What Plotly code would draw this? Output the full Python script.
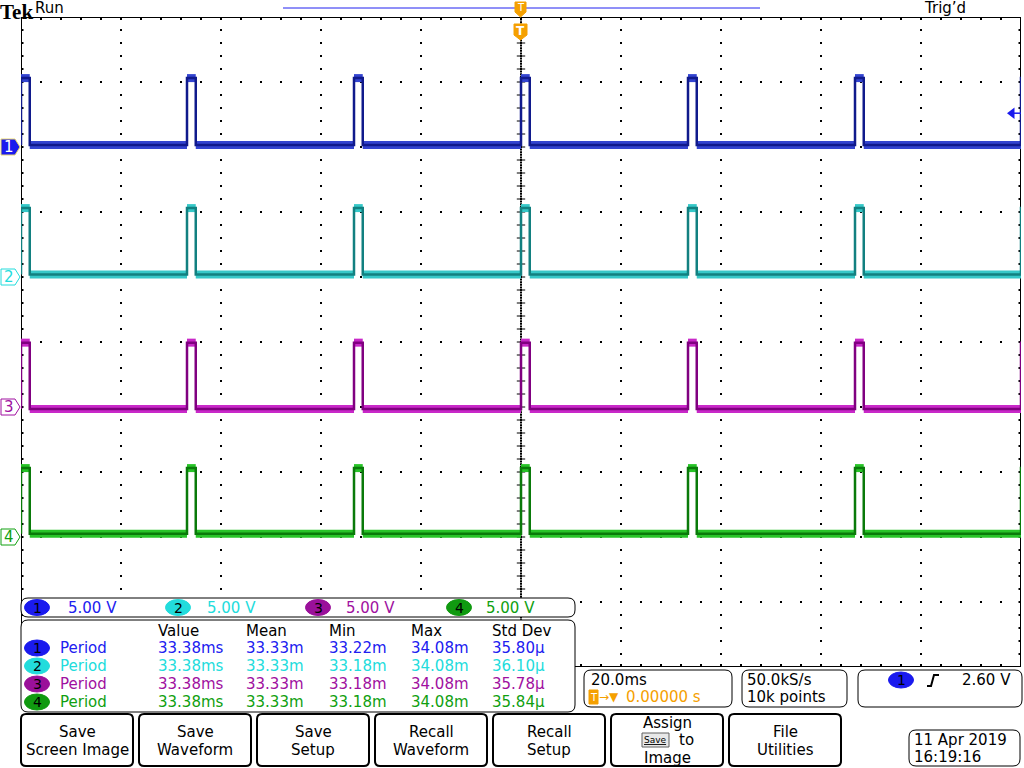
import numpy as np
import plotly.graph_objects as go

W, H = 1024, 768

# ---------------- data ----------------
time_per_div_ms = 20.0
volts_per_div = 5.0
channel_names = ["1", "2", "3", "4"]
ch_offsets_div = [3, 1, -1, -3]
rise_times_ms = [-100.0, -66.8, -33.4, 0.0, 33.4, 66.8, 100.0]
pulse_width_ms = 1.75
low_levels_v = [0.15, 0.2, -0.15, 0.25]
high_levels_v = [5.3, 5.3, 4.95, 5.3]
trigger_level_v = 2.60
scale_labels = ["5.00 V", "5.00 V", "5.00 V", "5.00 V"]
meas_headers = ["Value", "Mean", "Min", "Max", "Std Dev"]
meas_name = ["Period", "Period", "Period", "Period"]
meas_value = ["33.38ms", "33.38ms", "33.38ms", "33.38ms"]
meas_mean = ["33.33m", "33.33m", "33.33m", "33.33m"]
meas_min = ["33.22m", "33.18m", "33.18m", "33.18m"]
meas_max = ["34.08m", "34.08m", "34.08m", "34.08m"]
meas_std = ["35.80µ", "36.10µ", "35.78µ", "35.84µ"]
timebase_label = "20.0ms"
trig_pos_label = "0.00000 s"
sample_rate_label = "50.0kS/s"
record_label = "10k points"
trig_label = "2.60 V"
date_label = "11 Apr 2019"
time_label = "16:19:16"
buttons = [["Save", "Screen Image"], ["Save", "Waveform"], ["Save", "Setup"],
           ["Recall", "Waveform"], ["Recall", "Setup"], None, ["File", "Utilities"]]

# ---------------- styles ----------------
text_cols = ["#2020f0", "#22dcdc", "#a010a0", "#10a010"]
badge_cols = ["#1a1aee", "#22dcdc", "#9a109a", "#109a10"]
band_cols = ["#3344d0", "#36c8c8", "#c828c8", "#28c428"]
core_cols = ["#101a8c", "#128080", "#800080", "#0a7a0a"]
ORANGE = "#f5a000"
FONT = "DejaVu Sans"


def px(x):
    return x / W


def py(y):
    return 1 - y / H


shapes = []
ann = []


def txt(x, y, s, color="black", size=15, anchor="left", family=FONT, yanchor="middle"):
    ann.append(dict(x=px(x), y=py(y), xref="paper", yref="paper", text=s,
                    showarrow=False, xanchor=anchor, yanchor=yanchor,
                    font=dict(family=family, size=size, color=color),
                    borderpad=0, borderwidth=0))


def rrect(x0, y0, x1, y1, r=6, lw=1, color="black", fill="white"):
    p = (f"M{px(x0 + r)},{py(y0)} L{px(x1 - r)},{py(y0)} Q{px(x1)},{py(y0)} {px(x1)},{py(y0 + r)} "
         f"L{px(x1)},{py(y1 - r)} Q{px(x1)},{py(y1)} {px(x1 - r)},{py(y1)} "
         f"L{px(x0 + r)},{py(y1)} Q{px(x0)},{py(y1)} {px(x0)},{py(y1 - r)} "
         f"L{px(x0)},{py(y0 + r)} Q{px(x0)},{py(y0)} {px(x0 + r)},{py(y0)} Z")
    shapes.append(dict(type="path", path=p, xref="paper", yref="paper",
                       line=dict(color=color, width=lw), fillcolor=fill, layer="above"))


def poly(pts, fill, line="black", lw=1):
    p = "M" + " L".join(f"{px(a)},{py(b)}" for a, b in pts) + " Z"
    shapes.append(dict(type="path", path=p, xref="paper", yref="paper",
                       line=dict(color=line, width=lw), fillcolor=fill, layer="above"))


def badge(xc, yc, n, fill, w=25, h=16, tcol="black"):
    shapes.append(dict(type="circle", xref="paper", yref="paper",
                       x0=px(xc - w / 2), x1=px(xc + w / 2), y0=py(yc + h / 2), y1=py(yc - h / 2),
                       fillcolor=fill, line=dict(color=fill, width=1), layer="above"))
    txt(xc, yc, n, color=tcol, size=14, anchor="center")


fig = go.Figure()

# ---------------- graticule ----------------
minor_x = np.arange(-100, 100.001, time_per_div_ms / 5)
minor_y = np.arange(-5, 5.001, 0.2)
gx, gy = [], []
for t in np.arange(-80, 80.001, 20):
    if abs(t) < 1e-9:
        continue
    gx += [t] * len(minor_y)
    gy += list(minor_y)
for d in range(-4, 5):
    gx += list(minor_x)
    gy += [d] * len(minor_x)
# border ticks
gx += list(minor_x); gy += [4.97] * len(minor_x)
gx += list(minor_x); gy += [-4.97] * len(minor_x)
gx += [-99.7] * len(minor_y); gy += list(minor_y)
gx += [99.7] * len(minor_y); gy += list(minor_y)
# dense centre vertical line
dense = np.arange(-5, 5.001, 0.04)
gx += [0.0] * len(dense); gy += list(dense)
fig.add_trace(go.Scatter(x=gx, y=gy, mode="markers", hoverinfo="skip",
                         marker=dict(symbol="square", size=2, color="black", line=dict(width=0))))
fig.add_trace(go.Scatter(x=[0.0] * len(minor_y), y=minor_y, mode="markers", hoverinfo="skip",
                         marker=dict(symbol="line-ew", size=6, line=dict(width=1, color="black"))))

# ---------------- waveforms ----------------
for i in range(4):
    off = ch_offsets_div[i]
    lo = off + low_levels_v[i] / volts_per_div
    hi = off + high_levels_v[i] / volts_per_div
    xs, ys = [], []
    bx, by = [], []
    for k, r in enumerate(rise_times_ms):
        f = r + pulse_width_ms
        xs += [r, r, f, f]
        ys += [lo, hi, hi, lo]
        bx += [r, min(f, 100), None]
        by += [hi, hi, None]
        if k + 1 < len(rise_times_ms):
            bx += [f, rise_times_ms[k + 1], None]
            by += [lo, lo, None]
    fig.add_trace(go.Scatter(x=bx, y=by, mode="lines", hoverinfo="skip",
                             line=dict(color=band_cols[i], width=8)))
    fig.add_trace(go.Scatter(x=xs, y=ys, mode="lines", hoverinfo="skip",
                             line=dict(color=core_cols[i], width=2.5)))

# trigger level arrow (ch1)
tl = ch_offsets_div[0] + trigger_level_v / volts_per_div
fig.add_trace(go.Scatter(x=[98.2, 100], y=[tl, tl], mode="lines", hoverinfo="skip",
                         line=dict(color=badge_cols[0], width=1.5)))
fig.add_trace(go.Scatter(x=[98.2], y=[tl], mode="markers", hoverinfo="skip",
                         marker=dict(symbol="triangle-left", size=10, color=badge_cols[0])))

# graticule border
for (x0, y0, x1, y1) in [(-100, 5, 100, 5), (-100, -5, -100, 5), (100, -5, 100, 5), (-100, -5, 100, -5)]:
    shapes.append(dict(type="line", xref="x", yref="y", x0=x0, y0=y0, x1=x1, y1=y1,
                       line=dict(color="black", width=2), layer="below"))


def ypix(div):
    return 342 - 65 * div


# channel ground markers on the left
for i in range(4):
    yc = ypix(ch_offsets_div[i])
    pts = [(1, yc - 8), (15, yc - 8), (20, yc), (15, yc + 8), (1, yc + 8)]
    if i == 0:
        poly(pts, fill=badge_cols[0], line="#e8d870", lw=1)
        txt(8.5, yc, channel_names[i], color="white", size=15, anchor="center")
    else:
        poly(pts, fill="white", line=text_cols[i], lw=1)
        txt(8.5, yc, channel_names[i], color=text_cols[i], size=15, anchor="center")

# ---------------- top bar ----------------
txt(0, 0.5, "<b>Tek</b>", size=21, family="Liberation Serif", yanchor="top")
txt(35, 8, "Run", size=15)
txt(924, 8, "Trig’d", size=15)
shapes.append(dict(type="line", xref="paper", yref="paper", x0=px(283), x1=px(760), y0=py(8), y1=py(8),
                   line=dict(color="#2020f0", width=1), layer="above"))
poly([(515, 2), (526, 2), (526, 12), (520.5, 17), (515, 12)], fill=ORANGE, line=ORANGE)
txt(520.5, 8, "T", color="white", size=10, anchor="center")
poly([(514, 24), (527, 24), (527, 35), (520.5, 40), (514, 35)], fill=ORANGE, line=ORANGE)
txt(520.5, 31, "<b>T</b>", color="white", size=12, anchor="center")

# ---------------- readout boxes ----------------
rrect(21, 598, 575, 617, r=7)
scale_badge_x = [37, 178, 318, 459]
scale_text_x = [68, 207, 346, 486]
for i in range(4):
    badge(scale_badge_x[i], 607.5, channel_names[i], badge_cols[i])
    txt(scale_text_x[i], 607.5, scale_labels[i], color=text_cols[i])

rrect(21, 620, 575, 712, r=7)
col_x = [158, 246, 329, 411, 492]
for j, h in enumerate(meas_headers):
    txt(col_x[j], 631, h)
row_y = [648, 666, 684, 702]
for i in range(4):
    badge(37, row_y[i], channel_names[i], badge_cols[i])
    txt(60, row_y[i], meas_name[i], color=text_cols[i])
    vals = [meas_value[i], meas_mean[i], meas_min[i], meas_max[i], meas_std[i]]
    for j, v in enumerate(vals):
        txt(col_x[j], row_y[i], v, color=text_cols[i])

rrect(584, 670, 732, 707, r=7)
txt(591, 680, timebase_label)
shapes.append(dict(type="rect", xref="paper", yref="paper", x0=px(589), x1=px(598), y0=py(704), y1=py(690),
                   fillcolor=ORANGE, line=dict(color=ORANGE, width=1), layer="above"))
txt(593.5, 697, "T", color="white", size=10, anchor="center")
txt(599, 697, "→▼", color=ORANGE, size=12)
txt(626, 697, trig_pos_label, color=ORANGE)

rrect(742, 670, 847, 707, r=7)
txt(747, 680, sample_rate_label)
txt(747, 697, record_label)

rrect(858, 670, 1022, 707, r=7)
badge(901, 680, "1", badge_cols[0], w=25, h=16)
shapes.append(dict(type="path", xref="paper", yref="paper",
                   path=f"M{px(927)},{py(686)} L{px(931)},{py(686)} L{px(934)},{py(675)} L{px(939)},{py(675)}",
                   line=dict(color="black", width=2), layer="above"))
txt(962, 680, trig_label)

# ---------------- buttons ----------------
btn_x0 = [21, 139, 257, 375, 493, 611, 729]
for k, b in enumerate(buttons):
    x0 = btn_x0[k]
    rrect(x0, 714, x0 + 112, 766, r=5, lw=2)
    xc = x0 + 56
    if b is None:
        txt(xc, 723, "Assign", anchor="center")
        shapes.append(dict(type="rect", xref="paper", yref="paper", x0=px(642), x1=px(669), y0=py(747), y1=py(733),
                           fillcolor="#e8e8e8", line=dict(color="#606060", width=1), layer="above"))
        txt(655.5, 740, "<u>Save</u>", size=9, anchor="center")
        txt(679, 740, "to")
        txt(xc, 758, "Image", anchor="center")
    else:
        txt(xc, 732, b[0], anchor="center")
        txt(xc, 749.5, b[1], anchor="center")

rrect(909, 730, 1020, 766, r=7)
txt(914, 740, date_label)
txt(914, 757, time_label)

fig.update_layout(
    width=W, height=H, margin=dict(l=0, r=0, t=0, b=0),
    paper_bgcolor="white", plot_bgcolor="white", showlegend=False,
    xaxis=dict(domain=[px(21), px(1021)], range=[-100, 100], visible=False, fixedrange=True),
    yaxis=dict(domain=[py(667), py(17)], range=[-5, 5], visible=False, fixedrange=True),
    shapes=shapes, annotations=ann,
)
fig.write_html("out.html")
